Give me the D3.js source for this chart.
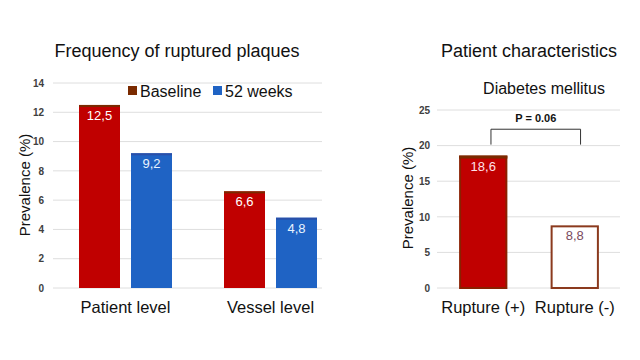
<!DOCTYPE html>
<html><head><meta charset="utf-8">
<script src="https://cdn.jsdelivr.net/npm/d3@7"></script>
<style>body{margin:0;background:#fff}svg{display:block;font-family:"Liberation Sans",Arial,sans-serif}</style>
</head><body><svg id="c" width="640" height="360"></svg>
<script>
// Left chart data
const groups = ["Patient level", "Vessel level"];
const seriesNames = ["Baseline", "52 weeks"];
const baseline = [12.5, 6.6];
const weeks52 = [9.2, 4.8];
const leftTicks = [0, 2, 4, 6, 8, 10, 12, 14];
// Right chart data
const rightCats = ["Rupture (+)", "Rupture (-)"];
const rightVals = [18.6, 8.8];
const rightTicks = [0, 5, 10, 15, 20, 25];
const pText = "P = 0.06";

const svg = d3.select("#c");
const RED = "#c00000", RED_DK = "#7a2a00", BLUE = "#1f63c4", BLUE_DK = "#2a4fa8";
const fmt = v => String(v).replace(".", ",");

// ---------- Left chart ----------
const yL = d3.scaleLinear().domain([0, 14]).range([288, 83]);
const xG = d3.scaleBand().domain(groups).range([53, 343]).padding(0);
const xS = d3.scaleBand().domain(seriesNames).range([26, 119]).paddingInner(0.2115).paddingOuter(0);

const gL = svg.append("g");
gL.append("g").selectAll("line").data(leftTicks).join("line")
  .attr("x1", 53).attr("x2", 322).attr("y1", d => yL(d)).attr("y2", d => yL(d))
  .attr("stroke", "#dedede").attr("stroke-width", 1);
const axL = d3.axisLeft(yL).tickValues(leftTicks).tickSize(0).tickPadding(0);
gL.append("g").attr("transform", "translate(44,0)").call(axL)
  .call(g => g.select(".domain").remove())
  .selectAll("text").attr("font-size", 10).attr("font-weight", "bold").attr("fill", "#404040");

const data = groups.map((g, i) => [
  {g, s: seriesNames[0], v: baseline[i], fill: RED, stroke: RED_DK, lab: "#fff"},
  {g, s: seriesNames[1], v: weeks52[i], fill: BLUE, stroke: BLUE_DK, lab: "#e8f4ff"}
]).flat();
gL.selectAll("rect.bar").data(data).join("rect").attr("class", "bar")
  .attr("x", d => xG(d.g) + xS(d.s)).attr("width", xS.bandwidth())
  .attr("y", d => yL(d.v)).attr("height", d => yL(0) - yL(d.v))
  .attr("fill", d => d.fill);
gL.selectAll("rect.top").data(data).join("rect").attr("class", "top")
  .attr("x", d => xG(d.g) + xS(d.s)).attr("width", xS.bandwidth())
  .attr("y", d => yL(d.v)).attr("height", 2).attr("fill", d => d.stroke);
gL.selectAll("text.val").data(data).join("text").attr("class", "val")
  .attr("x", d => xG(d.g) + xS(d.s) + xS.bandwidth() / 2).attr("y", d => yL(d.v) + 15)
  .attr("text-anchor", "middle").attr("font-size", 13).attr("fill", d => d.lab).text(d => fmt(d.v));
gL.selectAll("text.cat").data(groups).join("text").attr("class", "cat")
  .attr("x", d => xG(d) + xG.bandwidth() / 2).attr("y", 313)
  .attr("text-anchor", "middle").attr("font-size", 16.5).attr("fill", "#111").text(d => d);
gL.append("text").attr("x", 177).attr("y", 57).attr("text-anchor", "middle")
  .attr("font-size", 18).attr("fill", "#111").text("Frequency of ruptured plaques");
gL.append("text").attr("transform", "translate(30,185) rotate(-90)").attr("text-anchor", "middle")
  .attr("font-size", 15).attr("fill", "#111").text("Prevalence (%)");
// legend
const leg = gL.append("g");
const legX = [128, 213], legC = [RED_DK, BLUE];
seriesNames.forEach((s, i) => {
  leg.append("rect").attr("x", legX[i]).attr("y", 86).attr("width", 9).attr("height", 9).attr("fill", legC[i]);
  leg.append("text").attr("x", legX[i] + 12).attr("y", 97).attr("font-size", 16).attr("fill", "#111").text(s);
});

// ---------- Right chart ----------
const yR = d3.scaleLinear().domain([0, 25]).range([288, 110]);
const xR = d3.scaleBand().domain(rightCats).range([440.8, 617.2]).paddingInner(0.4725).paddingOuter(0.2);
const gR = svg.append("g");
gR.append("g").selectAll("line").data(rightTicks).join("line")
  .attr("x1", 437).attr("x2", 620).attr("y1", d => yR(d)).attr("y2", d => yR(d))
  .attr("stroke", "#dedede");
gR.append("g").attr("transform", "translate(430,0)").call(d3.axisLeft(yR).tickValues(rightTicks).tickSize(0).tickPadding(0))
  .call(g => g.select(".domain").remove())
  .selectAll("text").attr("font-size", 10).attr("font-weight", "bold").attr("fill", "#404040");
const rd = rightCats.map((c, i) => ({c, v: rightVals[i], i}));
gR.selectAll("rect.bar").data(rd).join("rect").attr("class", "bar")
  .attr("x", d => xR(d.c) + 1).attr("width", xR.bandwidth() - 2)
  .attr("y", d => yR(d.v) + 1).attr("height", d => yR(0) - yR(d.v) - 1)
  .attr("fill", d => d.i === 0 ? RED : "#fff")
  .attr("stroke", d => d.i === 0 ? "#8a2000" : "#8b3a1e").attr("stroke-width", 2);
gR.selectAll("rect.top").data(rd.filter(d => d.i === 0)).join("rect").attr("class", "top")
  .attr("x", d => xR(d.c)).attr("width", xR.bandwidth())
  .attr("y", d => yR(d.v)).attr("height", 3).attr("fill", RED_DK);
gR.selectAll("text.val").data(rd).join("text").attr("class", "val")
  .attr("x", d => xR(d.c) + xR.bandwidth() / 2).attr("y", d => yR(d.v) + 15)
  .attr("text-anchor", "middle").attr("font-size", 13)
  .attr("fill", d => d.i === 0 ? "#ffe0ea" : "#7a4a5e").text(d => fmt(d.v));
gR.selectAll("text.cat").data(rightCats).join("text").attr("class", "cat")
  .attr("x", d => xR(d) + xR.bandwidth() / 2).attr("y", 313)
  .attr("text-anchor", "middle").attr("font-size", 16.5).attr("fill", "#111").text(d => d);
gR.append("text").attr("x", 529).attr("y", 57).attr("text-anchor", "middle")
  .attr("font-size", 18).attr("fill", "#111").text("Patient characteristics");
gR.append("text").attr("x", 544).attr("y", 94).attr("text-anchor", "middle")
  .attr("font-size", 16).attr("fill", "#111").text("Diabetes mellitus");
gR.append("text").attr("transform", "translate(413,198) rotate(-90)").attr("text-anchor", "middle")
  .attr("font-size", 15).attr("fill", "#111").text("Prevalence (%)");
// bracket
const bx1 = xR(rightCats[0]) + xR.bandwidth() * 0.66, bx2 = xR(rightCats[1]) + xR.bandwidth() * 0.62;
gR.append("path").attr("d", `M${bx1},${yR(20)-1}V${yR(22.3)}H${bx2}V${yR(20)-1}`)
  .attr("fill", "none").attr("stroke", "#333").attr("stroke-width", 1);
gR.append("text").attr("x", (bx1 + bx2) / 2).attr("y", 122).attr("text-anchor", "middle")
  .attr("font-size", 11).attr("font-weight", "bold").attr("fill", "#111").text(pText);
</script></body></html>
